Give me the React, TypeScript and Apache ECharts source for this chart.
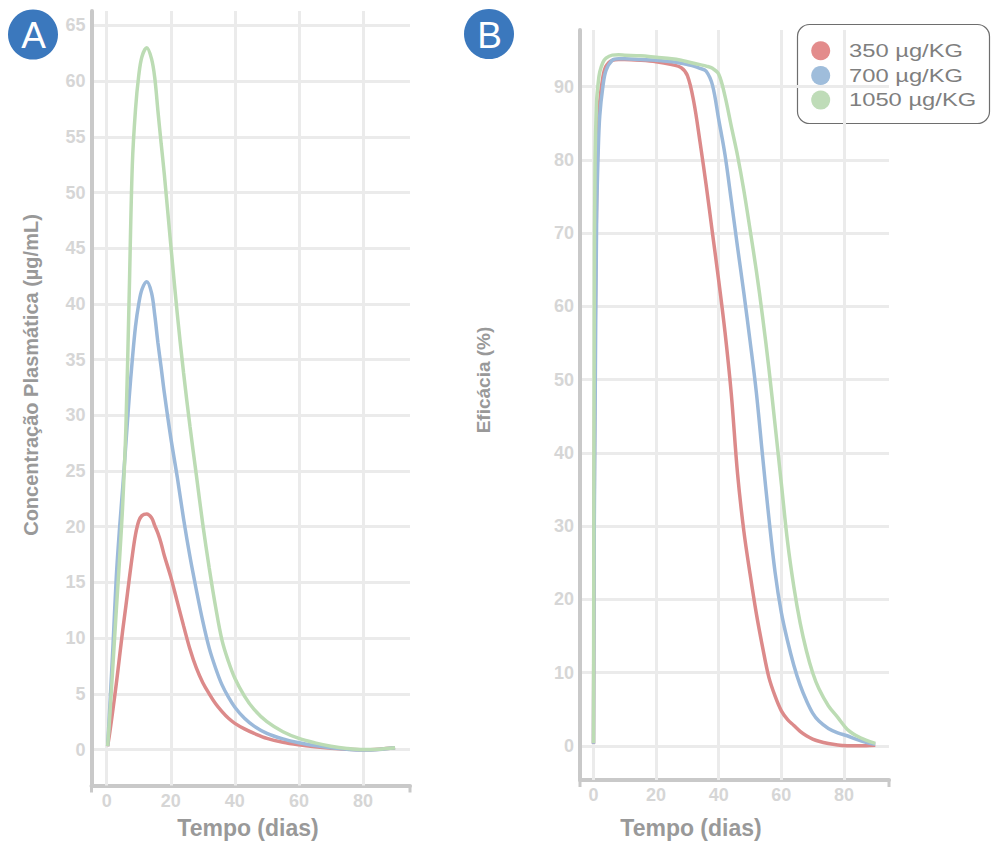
import React, { useEffect, useRef } from "react";
import * as echarts from "echarts";

// ---------- Data ----------
const seriesNames = ["350 µg/KG", "700 µg/KG", "1050 µg/KG"];
const seriesColors = ["#dc8a8a", "#9bb9da", "#bcdcb4"];
const legendDotColors = ["#e38c8c", "#9fbddb", "#bfdcb8"];

// vertical grid positions (days)
const timeTicks = [0, 20, 40, 60, 80];

// Panel A: plasma concentration (µg/mL) vs time (days)
const timeA = [0.3, 1, 2, 3, 4, 5, 6, 7, 8, 9, 10, 11, 12.5, 14, 15, 16, 17, 18, 20, 22, 24, 26, 28, 30, 32, 34, 36, 38, 40, 43, 46, 50, 55, 60, 65, 70, 75, 80, 85, 90];
const concRed = [0.3, 1.6, 3.7, 5.9, 8.3, 10.7, 12.9, 15.2, 17.4, 19.3, 20.5, 21.0, 21.15, 20.8, 20.1, 19.4, 18.5, 17.4, 15.5, 13.3, 11.1, 9.0, 7.3, 6.0, 5.0, 4.1, 3.4, 2.8, 2.35, 1.85, 1.45, 1.0, 0.65, 0.42, 0.25, 0.12, 0.03, -0.02, 0.03, 0.15];
const concBlue = [0.3, 4.0, 9.5, 15.5, 19.8, 23.5, 27.5, 31.5, 35.0, 38.0, 40.0, 41.3, 42.0, 41.0, 39.0, 36.5, 34.3, 32.0, 28.0, 24.5, 20.7, 17.3, 14.3, 11.5, 9.1, 7.3, 5.8, 4.7, 3.8, 2.8, 2.1, 1.45, 0.95, 0.6, 0.35, 0.15, 0.02, -0.05, 0.0, 0.15];
const concGreen = [0.3, 3.2, 7.8, 12.5, 17.0, 22.0, 29.0, 40.5, 52.5, 57.5, 60.5, 62.2, 63.0, 62.0, 60.3, 57.3, 54.4, 51.6, 45.3, 39.2, 33.8, 29.0, 24.6, 20.2, 16.3, 12.8, 9.8, 7.9, 6.4, 4.8, 3.6, 2.5, 1.6, 1.0, 0.6, 0.3, 0.1, 0.0, 0.03, 0.15];

// Panel B: efficacy (%) vs time (days)
const timeB = [0, 0.25, 0.5, 1, 1.5, 2, 3, 4, 6, 8, 10, 15, 20, 25, 28, 30, 32, 34, 36, 38, 40, 42, 44, 46, 48, 50, 52, 54, 56, 58, 60, 62, 64, 66, 68, 70, 72, 75, 78, 81, 84, 87, 90];
const effRed = [0.3, 35, 55, 75, 84, 88, 91.3, 92.8, 93.6, 93.7, 93.7, 93.6, 93.4, 93.0, 92.6, 91.5, 88.0, 82.5, 76.5, 70.0, 63.5, 56.5, 48.1, 37.2, 29.4, 23.5, 18.1, 13.5, 9.4, 6.8, 4.8, 3.6, 2.8, 2.0, 1.4, 0.95, 0.65, 0.35, 0.15, 0.05, 0.03, 0.05, 0.1];
const effBlue = [0.3, 30, 45, 72, 81, 86, 90, 92.2, 93.6, 93.8, 93.8, 93.7, 93.6, 93.4, 93.2, 93.0, 92.8, 92.5, 92.1, 90.2, 85.5, 80.7, 74.5, 68.1, 61.9, 55.3, 48.3, 39.6, 31.2, 23.7, 18.2, 14.3, 11.0, 8.3, 6.2, 4.5, 3.4, 2.4, 1.8, 1.4, 0.9, 0.5, 0.25];
const effGreen = [0.4, 60, 80, 88, 90.5, 92, 93.3, 93.9, 94.3, 94.35, 94.3, 94.2, 94.0, 93.8, 93.6, 93.4, 93.2, 93.0, 92.8, 92.5, 91.7, 88.7, 84.6, 80.6, 75.9, 70.5, 64.9, 58.6, 51.6, 43.8, 35.8, 27.8, 21.7, 16.8, 13.0, 10.0, 7.8, 5.5, 3.9, 2.3, 1.4, 0.8, 0.35];

const titleX = "Tempo (dias)";
const titleYA = "Concentração Plasmática (µg/mL)";
const titleYB = "Eficácia (%)";

// ---------- Styling ----------
const FONT = '"Liberation Sans", Arial, Helvetica, sans-serif';
const AXIS_COLOR = "#c9c9c9";
const GRID_COLOR = "#ebebeb";
const TICK_LABEL_COLOR = "#d6d6d6";
const TITLE_COLOR = "#999999";
const BADGE_COLOR = "#3b78bd";

const zip = (t: number[], v: number[]) => t.map((x, i) => [x, v[i]]);

function makeAxis(gridIndex: number, min: number, max: number, splitNumber: number) {
  return {
    type: "value",
    gridIndex,
    min,
    max,
    splitNumber,
    axisLine: { show: true, onZero: false, lineStyle: { color: AXIS_COLOR, width: 4 } },
    axisTick: { show: false },
    axisLabel: {
      showMinLabel: false,
      showMaxLabel: false,
      color: TICK_LABEL_COLOR,
      fontSize: 18,
      fontWeight: "bold",
      fontFamily: FONT,
      margin: 6,
    },
    splitLine: {
      show: true,
      showMinLine: false,
      showMaxLine: false,
      lineStyle: { color: GRID_COLOR, width: 3 },
    },
  };
}

function lineSeries(name: string, color: string, data: number[][], axisIndex: number) {
  return {
    type: "line",
    name,
    xAxisIndex: axisIndex,
    yAxisIndex: axisIndex,
    data,
    smooth: 0.35,
    showSymbol: false,
    symbol: "none",
    lineStyle: { color, width: 3.5 },
    itemStyle: { color },
    silent: true,
    z: 10,
  };
}

// invisible carrier series whose markLines draw the vertical grid lines
function gridSeries(axisIndex: number) {
  return {
    type: "line",
    name: "grid" + axisIndex,
    xAxisIndex: axisIndex,
    yAxisIndex: axisIndex,
    data: [],
    silent: true,
    z: 1,
    markLine: {
      z: 1,
      silent: true,
      symbol: "none",
      animation: false,
      label: { show: false },
      lineStyle: { color: GRID_COLOR, width: 3, type: "solid" },
      emphasis: { disabled: true },
      data: timeTicks.map((v) => ({ xAxis: v })),
    },
  };
}

function text(x: number, y: number, str: string, extra: any = {}, style: any = {}) {
  return {
    type: "text",
    x,
    y,
    ...extra,
    style: {
      text: str,
      fontFamily: FONT,
      align: "center",
      verticalAlign: "middle",
      textAlign: "center",
      textVerticalAlign: "middle",
      ...style,
    },
  };
}

function endTick(x: number, y: number) {
  return {
    type: "line",
    shape: { x1: x, y1: y, x2: x, y2: y + 7 },
    style: { stroke: AXIS_COLOR, lineWidth: 3 },
  };
}

export default function App() {
  const ref = useRef<HTMLDivElement>(null);

  useEffect(() => {
    if (!ref.current) return;
    const chart = echarts.init(ref.current, undefined, { renderer: "svg" });

    const legendRows = [50.7, 75.5, 100];

    const option: any = {
      animation: false,
      backgroundColor: "#ffffff",
      grid: [
        { left: 91.5, top: 11, width: 318.5, height: 774.5, containLabel: false },
        { left: 580, top: 30, width: 309, height: 750, containLabel: false },
      ],
      xAxis: [makeAxis(0, -4.74, 94.66, 5), makeAxis(1, -4.31, 94.38, 5)],
      yAxis: [makeAxis(0, -3.23, 66.3, 14), makeAxis(1, -4.64, 97.73, 10)],
      series: [
        gridSeries(0),
        gridSeries(1),
        lineSeries(seriesNames[0], seriesColors[0], zip(timeA, concRed), 0),
        lineSeries(seriesNames[1], seriesColors[1], zip(timeA, concBlue), 0),
        lineSeries(seriesNames[2], seriesColors[2], zip(timeA, concGreen), 0),
        lineSeries(seriesNames[0], seriesColors[0], zip(timeB, effRed), 1),
        lineSeries(seriesNames[1], seriesColors[1], zip(timeB, effBlue), 1),
        lineSeries(seriesNames[2], seriesColors[2], zip(timeB, effGreen), 1),
      ],
      graphic: [
        // axis end ticks (d3-style outer ticks)
        endTick(91.5, 785.5),
        endTick(410, 785.5),
        endTick(580, 780),
        endTick(889, 780),
        // panel badges
        { type: "circle", shape: { cx: 33, cy: 34.5, r: 25 }, style: { fill: BADGE_COLOR } },
        text(33.5, 35, "A", {}, { fill: "#ffffff", fontSize: 37 }),
        { type: "circle", shape: { cx: 489, cy: 34, r: 25 }, style: { fill: BADGE_COLOR } },
        text(489.5, 35, "B", {}, { fill: "#ffffff", fontSize: 37 }),
        // axis titles
        text(248, 828, titleX, {}, { fill: TITLE_COLOR, fontSize: 23, fontWeight: "bold" }),
        text(691, 828, titleX, {}, { fill: TITLE_COLOR, fontSize: 23, fontWeight: "bold" }),
        text(31, 375, titleYA, { rotation: Math.PI / 2 }, { fill: TITLE_COLOR, fontSize: 20, fontWeight: "bold" }),
        text(483, 380, titleYB, { rotation: Math.PI / 2 }, { fill: TITLE_COLOR, fontSize: 19, fontWeight: "bold" }),
        // legend
        {
          type: "group",
          z: 100,
          children: [
            {
              type: "rect",
              shape: { x: 797.5, y: 24.5, width: 192, height: 99, r: 12 },
              style: { fill: "#ffffff", stroke: "#6e6e6e", lineWidth: 1.2 },
            },
            ...seriesNames.map((n, i) => ({
              type: "circle",
              shape: { cx: 820.7, cy: legendRows[i], r: 9.5 },
              style: { fill: legendDotColors[i] },
            })),
            ...seriesNames.map((n, i) => ({
              type: "text",
              x: 849,
              y: legendRows[i],
              scaleX: 1.25,
              style: {
                text: n,
                fontFamily: FONT,
                fontSize: 19,
                fill: "#7f7f7f",
                align: "left",
                verticalAlign: "middle",
                textAlign: "left",
                textVerticalAlign: "middle",
              },
            })),
          ],
        },
      ],
    };

    chart.setOption(option);
    return () => chart.dispose();
  }, []);

  return (
    <div
      ref={ref}
      style={{ position: "absolute", left: 0, top: 0, width: 993, height: 841 }}
    />
  );
}
